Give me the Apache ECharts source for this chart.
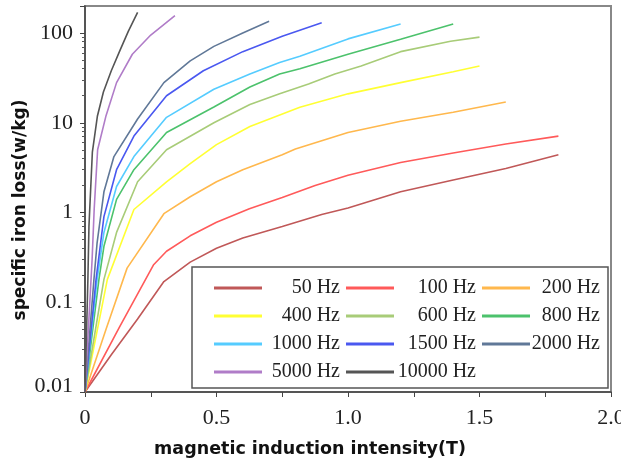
<!DOCTYPE html>
<html>
<head>
<meta charset="utf-8">
<script src="https://cdn.jsdelivr.net/npm/echarts@6/dist/echarts.min.js"></script>
<style>html,body{margin:0;padding:0;background:#fff}#c{width:621px;height:463px}</style>
</head>
<body>
<div id="c"></div>
<script>
// ---- data (B in T, loss in W/kg) ----
const seriesNames = ['50 Hz','100 Hz','200 Hz','400 Hz','600 Hz','800 Hz','1000 Hz','1500 Hz','2000 Hz','5000 Hz','10000 Hz'];
const s50 = [[0,0.01],[0.1,0.026],[0.2,0.065],[0.3,0.17],[0.4,0.28],[0.5,0.4],[0.6,0.52],[0.75,0.7],[0.9,0.95],[1.0,1.12],[1.2,1.7],[1.4,2.3],[1.6,3.1],[1.8,4.4]];
const s100 = [[0,0.01],[0.13,0.052],[0.26,0.26],[0.31,0.37],[0.4,0.55],[0.5,0.78],[0.625,1.1],[0.75,1.47],[0.875,2.0],[1.0,2.6],[1.2,3.6],[1.4,4.6],[1.6,5.8],[1.8,7.1]];
const s200 = [[0,0.01],[0.08,0.05],[0.16,0.24],[0.3,0.97],[0.4,1.5],[0.5,2.2],[0.6,3.0],[0.75,4.4],[0.8,5.1],[1.0,7.8],[1.2,10.4],[1.4,13.1],[1.6,17]];
const s400 = [[0,0.01],[0.085,0.18],[0.186,1.08],[0.31,2.2],[0.4,3.5],[0.5,5.7],[0.627,9.1],[0.817,14.9],[1.0,21],[1.2,28],[1.4,37],[1.5,43]];
const s600 = [[0,0.01],[0.072,0.18],[0.12,0.6],[0.2,2.2],[0.31,5.0],[0.49,10],[0.627,16],[0.74,21],[0.85,27],[0.95,35],[1.05,43],[1.2,62],[1.39,81],[1.5,90]];
const s800 = [[0,0.01],[0.053,0.18],[0.072,0.42],[0.12,1.4],[0.186,3.0],[0.31,7.8],[0.49,15],[0.627,25],[0.74,35],[0.817,40],[1.0,58],[1.2,85],[1.4,126]];
const s1000 = [[0,0.01],[0.046,0.18],[0.072,0.6],[0.12,1.95],[0.186,4.2],[0.31,11.5],[0.49,23.6],[0.627,35],[0.74,47],[0.817,55],[1.0,86],[1.2,126]];
const s1500 = [[0,0.01],[0.042,0.18],[0.072,0.9],[0.12,3.0],[0.186,7.1],[0.31,20],[0.45,38],[0.6,62],[0.75,92],[0.9,130]];
const s2000 = [[0,0.01],[0.034,0.18],[0.046,0.46],[0.072,1.7],[0.11,4.2],[0.2,11],[0.3,28],[0.4,49],[0.49,71],[0.6,100],[0.7,135]];
const s5000 = [[0,0.01],[0.027,0.3],[0.035,1.1],[0.048,5],[0.08,12],[0.12,28],[0.18,58],[0.25,95],[0.342,156]];
const s10000 = [[0,0.01],[0.011,0.18],[0.015,0.7],[0.028,4.7],[0.047,11.8],[0.07,22],[0.1,38],[0.133,64],[0.165,105],[0.2,170]];
const xTickValues = [0, 0.5, 1.0, 1.5, 2.0];
const xTickLabels = ['0', '0.5', '1.0', '1.5', '2.0'];
const yTickValues = [0.01, 0.1, 1, 10, 100];
const yTickLabels = ['0.01', '0.1', '1', '10', '100'];

const allData = [s50, s100, s200, s400, s600, s800, s1000, s1500, s2000, s5000, s10000];
const colors = ['#c05858','#ff5a5a','#ffb84d','#ffff33','#a8cc78','#4cc26c','#55ccff','#4a58f0','#607898','#b07cc8','#555555'];

const chart = echarts.init(document.getElementById('c'), null, {renderer: 'canvas'});
const serif = 'Liberation Serif';
const sans = 'DejaVu Sans';

function near(a, b) { return Math.abs(a - b) < 1e-9 * Math.max(1, Math.abs(b)); }

const option = {
  animation: false,
  backgroundColor: '#fff',
  color: colors,
  grid: { left: 85, right: 10, top: 6, bottom: 71, containLabel: false, outerBoundsMode: 'none',
          show: true, borderColor: '#888', borderWidth: 2, backgroundColor: 'transparent' },
  legend: {
    left: 192, top: 267, width: 392,
    orient: 'horizontal',
    padding: [10, 8, 5, 22],
    itemGap: 6,
    itemWidth: 48, itemHeight: 3,
    icon: 'rect',
    selectedMode: false,
    borderColor: '#555', borderWidth: 1.5,
    backgroundColor: '#fff',
    data: seriesNames,
    formatter: function (name) {
      const i = seriesNames.indexOf(name) % 3;
      return '{c' + i + '|' + name + '}';
    },
    textStyle: {
      fontFamily: serif, fontSize: 20, color: '#222',
      rich: {
        c0: { width: 73, align: 'right', fontFamily: serif, fontSize: 20, height: 22, lineHeight: 22, color: '#222' },
        c1: { width: 77, align: 'right', fontFamily: serif, fontSize: 20, height: 22, lineHeight: 22, color: '#222' },
        c2: { width: 65, align: 'right', fontFamily: serif, fontSize: 20, height: 22, lineHeight: 22, color: '#222' }
      }
    }
  },
  xAxis: {
    type: 'value', min: 0, max: 2, interval: 0.25,
    name: 'magnetic induction intensity(T)',
    nameLocation: 'middle', nameGap: 48, nameMoveOverlap: false,
    nameTextStyle: { fontFamily: sans, fontWeight: 'bold', fontSize: 17.5, color: '#111', padding: [0, 76, 0, 0] },
    axisLine: { show: true, lineStyle: { color: '#444', width: 1.5 } },
    axisTick: { show: true, inside: false, length: 5, lineStyle: { color: '#444' } },
    splitLine: { show: false },
    axisLabel: {
      margin: 20, lineHeight: 12, fontFamily: serif, fontSize: 22, color: '#222', hideOverlap: false,
      formatter: function (v) {
        for (let i = 0; i < xTickValues.length; i++) if (near(v, xTickValues[i])) return xTickLabels[i];
        return '';
      }
    }
  },
  yAxis: {
    type: 'log', logBase: 10, min: 0.01, max: 200,
    name: 'specific iron loss(w/kg)',
    nameLocation: 'middle', nameGap: 56, nameMoveOverlap: false,
    nameTextStyle: { fontFamily: sans, fontWeight: 'bold', fontSize: 17, color: '#111', padding: [0, 22, 0, 0] },
    axisLine: { show: true, lineStyle: { color: '#444', width: 1.5 } },
    axisTick: { show: true, inside: false, length: 5, lineStyle: { color: '#444' } },
    minorTick: { show: true, splitNumber: 9, length: 3, lineStyle: { color: '#555' } },
    splitLine: { show: false },
    axisLabel: {
      margin: 12, lineHeight: 12, fontFamily: serif, fontSize: 22, color: '#222', showMaxLabel: false, hideOverlap: false,
      alignMinLabel: 'right', verticalAlignMinLabel: 'bottom',
      formatter: function (v) {
        for (let i = 0; i < yTickValues.length; i++) if (near(v, yTickValues[i])) return yTickLabels[i];
        return '';
      }
    }
  },
  series: allData.map(function (d, i) {
    return {
      name: seriesNames[i], type: 'line', data: d,
      showSymbol: false, symbol: 'none', smooth: false,
      lineStyle: { width: 1.6, color: colors[i] },
      itemStyle: { color: colors[i] },
      z: 2
    };
  })
};
chart.setOption(option);
</script>
</body>
</html>
